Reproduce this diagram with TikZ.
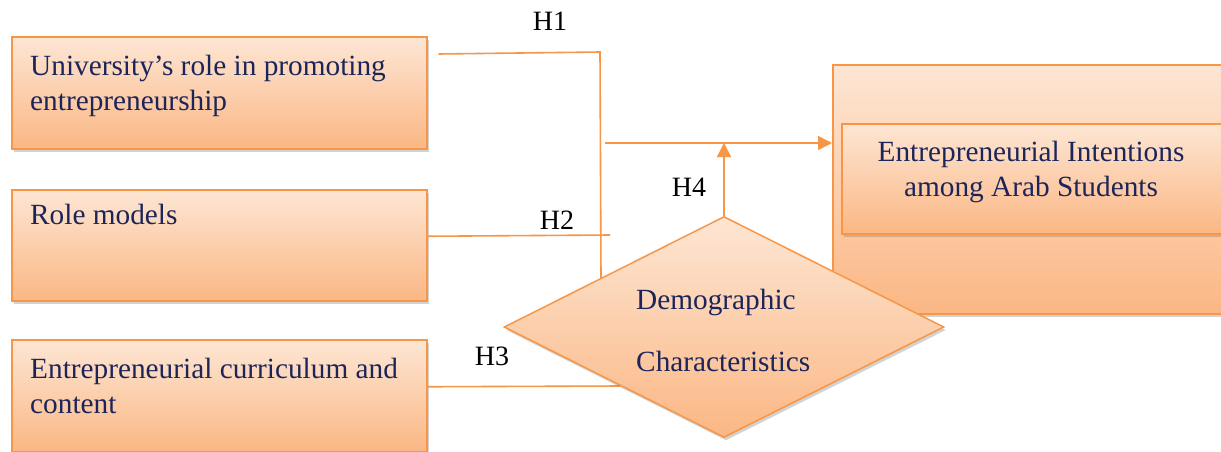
\documentclass[tikz,border=0pt]{standalone}
\usepackage{fontspec}
\setmainfont{Liberation Serif}
\usetikzlibrary{shapes.geometric,arrows.meta,shadows}
\definecolor{oline}{HTML}{F79646}
\definecolor{ptop}{HTML}{FDE6D4}
\definecolor{pbot}{HTML}{FBB784}
\definecolor{navy}{HTML}{1C2559}
\begin{document}
\begin{tikzpicture}[x=1pt,y=-1pt,
  boxst/.style={draw=oline, line width=1.5pt, top color=ptop, bottom color=pbot,
    rectangle, inner sep=0pt, anchor=north west,
    drop shadow={shadow xshift=2pt, shadow yshift=-3pt, opacity=0.35}},
  btext/.style={font=\fontsize{29.3}{35}\selectfont, text=navy, inner sep=0pt, align=left},
  hlab/.style={font=\fontsize{28}{32}\selectfont, text=black, inner sep=0pt},
  conn/.style={draw=oline, line width=1.6pt},
  arr/.style={conn, -{Triangle[length=14pt,width=14pt]}}]
\clip (0,0) rectangle (1221,451);
\fill[white] (0,0) rectangle (1221,451);
% left boxes
\node[boxst, minimum width=415pt, minimum height=112pt] (b1) at (11,36) {};
\node[boxst, minimum width=415pt, minimum height=111pt] (b2) at (11,189) {};
\node[boxst, minimum width=415pt, minimum height=112pt] (b3) at (11,339) {};
\node[btext, anchor=base west] (t1) at (30,110) {University’s role in promoting\\entrepreneurship};
\node[btext, anchor=base west] (t2) at (30,224) {Role models};
\node[btext, anchor=base west] (t3) at (30,413) {Entrepreneurial curriculum and\\content};
% right boxes
\node[boxst, minimum width=410pt, minimum height=249pt] (big) at (832,64) {};
\node[boxst, minimum width=400pt, minimum height=110pt] (inner) at (841,123) {};
\node[btext, align=center, anchor=base] (t4) at (1031,196) {Entrepreneurial Intentions\\among Arab Students};
% connectors
\coordinate (j1) at (600,52);
\coordinate (j1b) at (601,279);
\coordinate (j2) at (610,235);
\coordinate (j3) at (620,386);
\coordinate (ja) at (605,143);
\draw[conn] ([shift={(11,18)}]b1.north east) -- (j1) -- (j1b);
\draw[conn] ([shift={(0,-9)}]b2.east) -- (j2);
\draw[conn] ([shift={(0,-9)}]b3.east) -- (j3);
\draw[arr] (ja) -- (ja -| big.west);
% diamond
\node[diamond, draw=oline, line width=1.5pt, top color=ptop, bottom color=pbot,
  minimum width=440pt, minimum height=221pt, inner sep=0pt,
  drop shadow={shadow xshift=2pt, shadow yshift=-3pt, opacity=0.35}] (dm) at (724,327) {};
\node[btext, anchor=base west, font=\fontsize{29.3}{62}\selectfont] (t5) at (636,371) {Demographic\\Characteristics};
\draw[arr] (dm.north) -- (dm.north |- ja);
% labels
\node[hlab] (h1) at (550,21) {H1};
\node[hlab] (h2) at (557,220) {H2};
\node[hlab] (h3) at (492,356) {H3};
\node[hlab] (h4) at (689,187) {H4};
\end{tikzpicture}
\end{document}
